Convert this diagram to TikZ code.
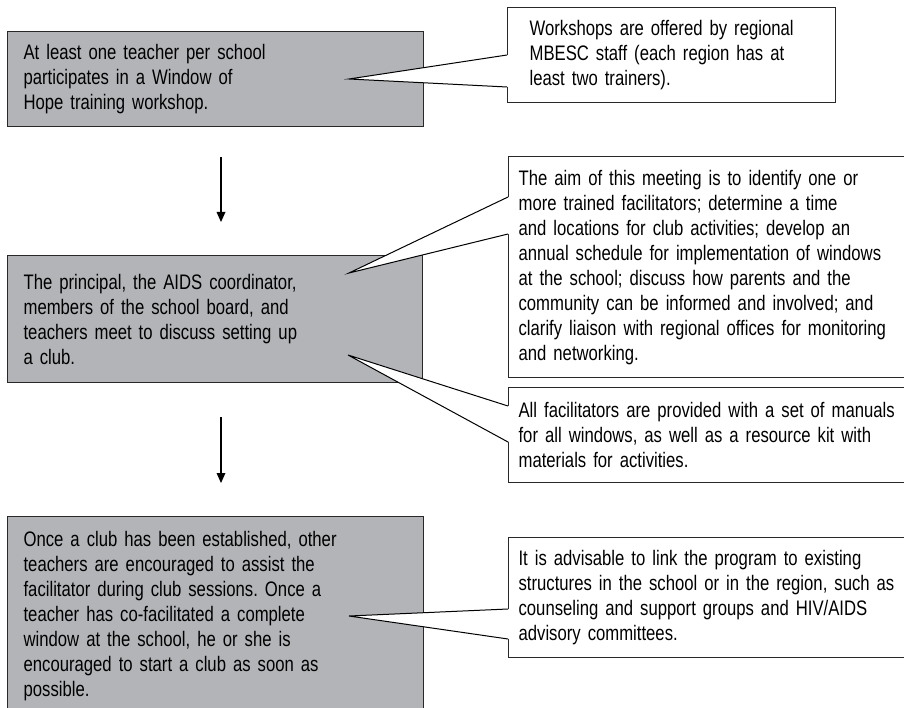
\documentclass[tikz,border=0pt]{standalone}
\usepackage{fontspec}
\setmainfont[FakeStretch=0.795]{Liberation Sans}
\frenchspacing
\definecolor{boxgray}{RGB}{178,180,183}
\definecolor{linegray}{RGB}{40,40,40}
\tikzset{
  stepbox/.style={draw=linegray, line width=1.2pt, fill=boxgray, anchor=north west,
    inner xsep=16pt, inner ysep=0pt, align=left,
    font=\fontsize{21}{25}\selectfont},
  notebox/.style={draw=linegray, line width=1.2pt, fill=white, anchor=north west,
    inner xsep=10pt, inner ysep=0pt, align=left,
    font=\fontsize{21}{25}\selectfont},
  pointer/.style={draw=black, line width=1pt, line join=miter},
}
\begin{document}
\begin{tikzpicture}[x=1pt, y=1pt]
                      \useasboundingbox (0,0) rectangle (904,-708);
                      % gray steps on the left
                      \node [stepbox, text width=384pt, minimum height=95pt] (b1) at (7,-31)
                        {At least one teacher per school\\ participates in a Window of\\ Hope training workshop.};
                      \node [stepbox, text width=383pt, minimum height=127pt] (b2) at (7,-255)
                        {The principal, the AIDS coordinator,\\ members of the school board, and\\ teachers meet to discuss setting up\\ a club.};
                      \node [stepbox, text width=384pt, minimum height=198pt] (b3) at (7,-516)
                        {Once a club has been established, other\\ teachers are encouraged to assist the\\ facilitator during club sessions. Once a\\ teacher has co-facilitated a complete\\ window at the school, he or she is\\ encouraged to start a club as soon as\\ possible.};
                      % notes on the right
                      \node [notebox, inner xsep=22pt, text width=284pt, minimum height=95pt] (c1) at (507,-7)
                        {Workshops are offered by regional\\ MBESC staff (each region has at\\ least two trainers).};
                      \node [notebox, text width=400pt, minimum height=221pt] (c2) at (508,-156)
                        {The aim of this meeting is to identify one or\\ more trained facilitators; determine a time\\ and locations for club activities; develop an\\ annual schedule for implementation of windows\\ at the school; discuss how parents and the\\ community can be informed and involved; and\\ clarify liaison with regional offices for monitoring\\ and networking.};
                      \node [notebox, text width=400pt, minimum height=95pt] (c3) at (508,-387)
                        {All facilitators are provided with a set of manuals\\ for all windows, as well as a resource kit with\\ materials for activities.};
                      \node [notebox, text width=400pt, minimum height=120pt] (c4) at (508,-537)
                        {It is advisable to link the program to existing\\ structures in the school or in the region, such as\\ counseling and support groups and HIV/AIDS\\ advisory committees.};
                      % pointers
                      \coordinate (t1) at (349,-79);
                      \coordinate (t2) at (349,-273);
                      \coordinate (t3) at (348,-355);
                      \coordinate (t4) at (349,-616);
                      \coordinate (c1a) at (c1.north west |- 0,-55);
                      \coordinate (c1b) at (c1.north west |- 0,-87);
                      \coordinate (c2a) at (c2.north west |- 0,-197);
                      \coordinate (c2b) at (c2.north west |- 0,-234);
                      \coordinate (c3a) at (c3.north west |- 0,-406);
                      \coordinate (c3b) at (c3.north west |- 0,-442);
                      \coordinate (c4a) at (c4.north west |- 0,-609);
                      \coordinate (c4b) at (c4.north west |- 0,-639);
                      \foreach \t/\a/\b in {t1/c1a/c1b, t2/c2a/c2b, t3/c3a/c3b, t4/c4a/c4b} {
                        \fill [white] ([xshift=1pt]\a) -- (\t) -- ([xshift=1pt]\b) -- cycle;
                        \draw [pointer] (\a) -- (\t) -- (\b);
                      }
                      % arrows between steps
                      \coordinate (a1s) at (221,-157);
                      \coordinate (a1e) at (221,-222);
                      \coordinate (a2s) at (221,-417);
                      \coordinate (a2e) at (221,-483);
                      \draw [black, line width=1.3pt, shorten >=6pt] (a1s) -- (a1e);
                      \fill [black] (a1e) -- ++(-4.5,10) -- ++(9,0) -- cycle;
                      \draw [black, line width=1.3pt, shorten >=6pt] (a2s) -- (a2e);
                      \fill [black] (a2e) -- ++(-4.5,10) -- ++(9,0) -- cycle;
                  \end{tikzpicture}
\end{document}
